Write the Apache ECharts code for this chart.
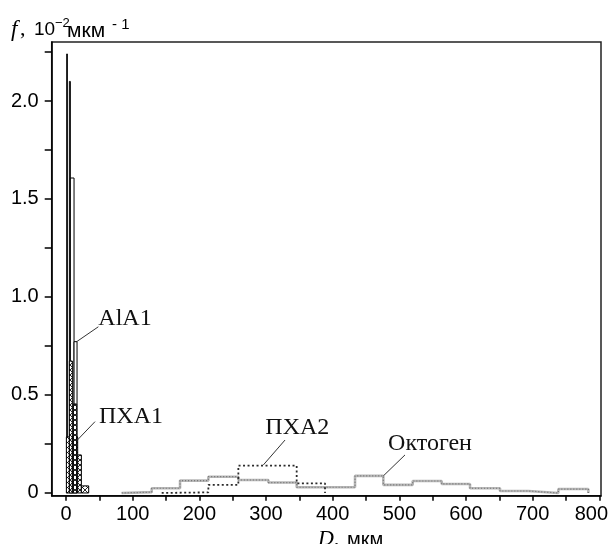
<!DOCTYPE html>
<html>
<head>
<meta charset="utf-8">
<script src="https://cdn.jsdelivr.net/npm/echarts@6/dist/echarts.min.js"></script>
<style>
  html, body { margin: 0; padding: 0; background: #fff; }
  #chart { width: 611px; height: 544px; }
</style>
</head>
<body>
<div id="chart"></div>
<script>
// --- data (D in мкм, f in 10^-2 мкм^-1) ---
// AlA1: separate bins (left edge, right edge, height)
const alLeft = [1, 5, 6.5, 12];
const alRight = [2, 6.5, 12, 16.5];
const alValues = [2.24, 2.10, 1.607, 0.772];

// ПХА1: contiguous bins
const pxa1Edges = [0.5, 5, 9.5, 11, 16, 17.5, 23, 34];
const pxa1Values = [0.286, 0.673, 0.286, 0.454, 0.286, 0.194, 0.036];

// ПХА2
const pxa2Edges = [143.5, 213.5, 258.5, 346, 388.5];
const pxa2Values = [0.003, 0.041, 0.139, 0.049];

// Октоген
const octEdges = [83.5, 128.5, 171, 213.5, 258.5, 303.5, 346, 433.5, 476, 520, 563.5, 606, 651, 693.5, 738.5, 783.5];
const octValues = [0.004, 0.024, 0.063, 0.083, 0.066, 0.053, 0.029, 0.087, 0.041, 0.061, 0.046, 0.024, 0.010, 0.000, 0.020];

const xTicks = [0, 50, 100, 150, 200, 250, 300, 350, 400, 450, 500, 550, 600, 650, 700, 750, 800];
const xLabels = [0, 100, 200, 300, 400, 500, 600, 700, 800];
const yTicks = [0, 0.25, 0.5, 0.75, 1.0, 1.25, 1.5, 1.75, 2.0, 2.25];
const yLabels = [0, 0.5, 1.0, 1.5, 2.0];

// labels: [text, textX, textY, pointerFromX, pointerFromY, pointerToX, pointerToY] in data units
const notes = [
  ['AlA1', 88.5, 0.888, 16, 0.772, 48.5, 0.848],
  ['ПХА1', 97.5, 0.388, 17, 0.27, 43.5, 0.364],
  ['ПХА2', 347, 0.332, 296, 0.143, 328.5, 0.27],
  ['Октоген', 546, 0.25, 476, 0.087, 508.5, 0.194]
];

const chart = echarts.init(document.getElementById('chart'), null, { renderer: 'canvas' });

// crosshatch pattern for ПХА1
const hatch = document.createElement('canvas');
hatch.width = 5;
hatch.height = 5;
const hc = hatch.getContext('2d');
hc.fillStyle = '#fff';
hc.fillRect(0, 0, 5, 5);
hc.strokeStyle = '#111';
hc.lineWidth = 0.9;
hc.beginPath();
hc.moveTo(0, 0); hc.lineTo(5, 5);
hc.moveTo(5, 0); hc.lineTo(0, 5);
hc.stroke();

function rectSeries(name, left, right, values, style, z) {
  return {
    type: 'custom',
    name: name,
    z: z,
    silent: true,
    data: values.map((v, i) => [left[i], right[i], v]),
    encode: { x: [0, 1], y: 2 },
    renderItem: function (params, api) {
      const a = api.coord([api.value(0), api.value(2)]);
      const b = api.coord([api.value(1), 0]);
      return {
        type: 'rect',
        shape: { x: a[0], y: a[1], width: b[0] - a[0], height: b[1] - a[1] },
        style: style
      };
    }
  };
}

function stepData(edges, values) {
  const d = [[edges[0], 0]];
  values.forEach((v, i) => d.push([edges[i], v]));
  d.push([edges[edges.length - 1], values[values.length - 1]]);
  d.push([edges[edges.length - 1], 0]);
  return d;
}

const sans = 'Liberation Sans';
const serif = 'Liberation Serif';

chart.setOption({
  animation: false,
  backgroundColor: '#fff',
  grid: {
    left: 51.7, right: 10, top: 42, bottom: 48.3,
    show: true, borderColor: '#222', borderWidth: 1.5,
    outerBoundsMode: 'none'
  },
  xAxis: {
    type: 'value',
    min: -21.5,
    max: 802.5,
    axisLine: { show: true, onZero: false, lineStyle: { color: '#000', width: 1.5 } },
    axisTick: { show: true, length: 5, customValues: xTicks, lineStyle: { color: '#000', width: 1.5 } },
    axisLabel: {
      customValues: xLabels,
      margin: 9,
      color: '#000',
      fontSize: 20,
      fontFamily: sans,
      formatter: v => v === 800 ? '{r|800}' : String(v),
      rich: { r: { padding: [0, 16, 0, 0], fontSize: 20, fontFamily: sans, color: '#000' } }
    },
    splitLine: { show: false }
  },
  yAxis: {
    type: 'value',
    min: -0.014,
    max: 2.301,
    axisLine: { show: true, onZero: false, lineStyle: { color: '#000', width: 1.5 } },
    axisTick: { show: true, length: 7, customValues: yTicks, lineStyle: { color: '#000', width: 1.5 } },
    axisLabel: {
      customValues: yLabels,
      margin: 13,
      color: '#000',
      fontSize: 20,
      fontFamily: sans,
      formatter: v => v === 0 ? '0' : v.toFixed(1)
    },
    splitLine: { show: false }
  },
  series: [
    rectSeries('AlA1', alLeft, alRight, alValues,
      { fill: '#fff', stroke: '#000', lineWidth: 1 }, 2),
    rectSeries('ПХА1', pxa1Edges.slice(0, -1), pxa1Edges.slice(1), pxa1Values,
      { fill: { image: hatch, repeat: 'repeat' }, stroke: '#000', lineWidth: 1 }, 3),
    {
      type: 'line', name: 'Октоген', step: 'end', symbol: 'none', silent: true, z: 2,
      data: stepData(octEdges, octValues),
      lineStyle: { color: '#b8b8b8', width: 2.6 }
    },
    {
      type: 'line', name: 'Октоген dots', step: 'end', symbol: 'none', silent: true, z: 3,
      data: stepData(octEdges, octValues),
      lineStyle: { color: '#707070', width: 1.2, type: [1, 2] }
    },
    {
      type: 'line', name: 'ПХА2', step: 'end', symbol: 'none', silent: true, z: 4,
      data: stepData(pxa2Edges, pxa2Values),
      lineStyle: { color: '#2a2a2a', width: 1.8, type: [2, 2.5] }
    }
  ]
});

// labels with pointers, and the axis names
const px = p => chart.convertToPixel({ gridIndex: 0 }, p);
const graphics = [];
notes.forEach(n => {
  const t = px([n[1], n[2]]);
  const a = px([n[3], n[4]]);
  const b = px([n[5], n[6]]);
  graphics.push({
    type: 'line', silent: true, z: 10,
    shape: { x1: a[0], y1: a[1], x2: b[0], y2: b[1] },
    style: { stroke: '#333', lineWidth: 1 }
  });
  graphics.push({
    type: 'text', silent: true, z: 10, x: t[0], y: t[1],
    style: { text: n[0], font: '24px ' + serif, fill: '#111', align: 'center', verticalAlign: 'middle' }
  });
});

// y axis name: f, 10^-2 мкм^-1
graphics.push(
  { type: 'text', x: 11, y: 29.5, style: { text: 'f', font: 'italic 23px ' + serif, fill: '#000', verticalAlign: 'middle' } },
  { type: 'text', x: 20, y: 29.5, style: { text: ',', font: '22px ' + serif, fill: '#000', verticalAlign: 'middle' } },
  { type: 'text', x: 34, y: 30, style: { text: '10', font: '19px ' + sans, fill: '#000', verticalAlign: 'middle' } },
  { type: 'text', x: 55, y: 23, style: { text: '−2', font: '13px ' + sans, fill: '#000', verticalAlign: 'middle' } },
  { type: 'text', x: 67, y: 31, style: { text: 'мкм', font: '21px ' + sans, fill: '#000', verticalAlign: 'middle' } },
  { type: 'text', x: 112, y: 25, style: { text: '- 1', font: '15px ' + sans, fill: '#000', verticalAlign: 'middle' } }
);

// x axis name: D, мкм
graphics.push(
  { type: 'text', x: 318, y: 539, style: { text: 'D', font: 'italic 22px ' + serif, fill: '#000', verticalAlign: 'middle' } },
  { type: 'text', x: 334, y: 539, style: { text: ',', font: '22px ' + serif, fill: '#000', verticalAlign: 'middle' } },
  { type: 'text', x: 347, y: 540, style: { text: 'мкм', font: '20px ' + sans, fill: '#000', verticalAlign: 'middle' } }
);

chart.setOption({ graphic: graphics });
</script>
</body>
</html>
